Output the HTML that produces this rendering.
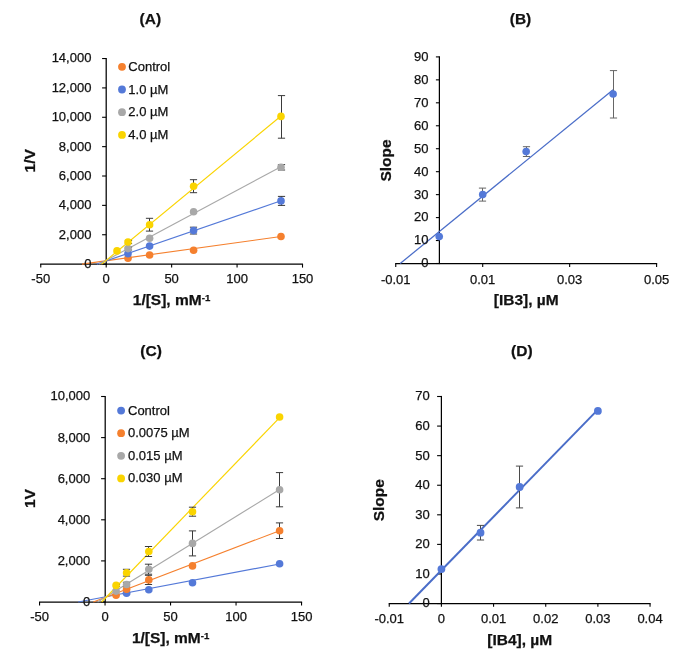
<!DOCTYPE html>
<html><head><meta charset="utf-8"><style>
html,body{margin:0;padding:0;background:#fff;}
svg{display:block;will-change:transform;font-family:"Liberation Sans",sans-serif;}
text{stroke:#111;stroke-width:0.25px;}
</style></head><body>
<svg width="685" height="668" viewBox="0 0 685 668">
<rect width="685" height="668" fill="#fff"/>
<line x1="106.2" y1="57.95" x2="106.2" y2="264.7" stroke="#000000" stroke-width="1.25"/>
<line x1="102.1" y1="264.1" x2="106.2" y2="264.1" stroke="#000000" stroke-width="1.1"/>
<line x1="102.1" y1="234.74" x2="106.2" y2="234.74" stroke="#000000" stroke-width="1.1"/>
<line x1="102.1" y1="205.37" x2="106.2" y2="205.37" stroke="#000000" stroke-width="1.1"/>
<line x1="102.1" y1="176.01" x2="106.2" y2="176.01" stroke="#000000" stroke-width="1.1"/>
<line x1="102.1" y1="146.64" x2="106.2" y2="146.64" stroke="#000000" stroke-width="1.1"/>
<line x1="102.1" y1="117.28" x2="106.2" y2="117.28" stroke="#000000" stroke-width="1.1"/>
<line x1="102.1" y1="87.91" x2="106.2" y2="87.91" stroke="#000000" stroke-width="1.1"/>
<line x1="102.1" y1="58.55" x2="106.2" y2="58.55" stroke="#000000" stroke-width="1.1"/>
<line x1="40.21" y1="264.1" x2="303.06" y2="264.1" stroke="#000000" stroke-width="1.25"/>
<line x1="40.76" y1="264.1" x2="40.76" y2="267.6" stroke="#000000" stroke-width="1.1"/>
<line x1="106.2" y1="264.1" x2="106.2" y2="267.6" stroke="#000000" stroke-width="1.1"/>
<line x1="171.64" y1="264.1" x2="171.64" y2="267.6" stroke="#000000" stroke-width="1.1"/>
<line x1="237.07" y1="264.1" x2="237.07" y2="267.6" stroke="#000000" stroke-width="1.1"/>
<line x1="302.51" y1="264.1" x2="302.51" y2="267.6" stroke="#000000" stroke-width="1.1"/>
<line x1="439.4" y1="56.3" x2="439.4" y2="264.1" stroke="#000000" stroke-width="1.25"/>
<line x1="435.9" y1="263.5" x2="439.4" y2="263.5" stroke="#000000" stroke-width="1.1"/>
<line x1="435.9" y1="240.54" x2="439.4" y2="240.54" stroke="#000000" stroke-width="1.1"/>
<line x1="435.9" y1="217.59" x2="439.4" y2="217.59" stroke="#000000" stroke-width="1.1"/>
<line x1="435.9" y1="194.63" x2="439.4" y2="194.63" stroke="#000000" stroke-width="1.1"/>
<line x1="435.9" y1="171.68" x2="439.4" y2="171.68" stroke="#000000" stroke-width="1.1"/>
<line x1="435.9" y1="148.72" x2="439.4" y2="148.72" stroke="#000000" stroke-width="1.1"/>
<line x1="435.9" y1="125.77" x2="439.4" y2="125.77" stroke="#000000" stroke-width="1.1"/>
<line x1="435.9" y1="102.81" x2="439.4" y2="102.81" stroke="#000000" stroke-width="1.1"/>
<line x1="435.9" y1="79.86" x2="439.4" y2="79.86" stroke="#000000" stroke-width="1.1"/>
<line x1="435.9" y1="56.9" x2="439.4" y2="56.9" stroke="#000000" stroke-width="1.1"/>
<line x1="395.2" y1="263.5" x2="657.15" y2="263.5" stroke="#000000" stroke-width="1.25"/>
<line x1="395.75" y1="263.5" x2="395.75" y2="267.1" stroke="#000000" stroke-width="1.1"/>
<line x1="482.7" y1="263.5" x2="482.7" y2="267.1" stroke="#000000" stroke-width="1.1"/>
<line x1="569.65" y1="263.5" x2="569.65" y2="267.1" stroke="#000000" stroke-width="1.1"/>
<line x1="656.6" y1="263.5" x2="656.6" y2="267.1" stroke="#000000" stroke-width="1.1"/>
<line x1="105.2" y1="395.9" x2="105.2" y2="602.6" stroke="#000000" stroke-width="1.25"/>
<line x1="101.1" y1="602" x2="105.2" y2="602" stroke="#000000" stroke-width="1.1"/>
<line x1="101.1" y1="560.9" x2="105.2" y2="560.9" stroke="#000000" stroke-width="1.1"/>
<line x1="101.1" y1="519.8" x2="105.2" y2="519.8" stroke="#000000" stroke-width="1.1"/>
<line x1="101.1" y1="478.7" x2="105.2" y2="478.7" stroke="#000000" stroke-width="1.1"/>
<line x1="101.1" y1="437.6" x2="105.2" y2="437.6" stroke="#000000" stroke-width="1.1"/>
<line x1="101.1" y1="396.5" x2="105.2" y2="396.5" stroke="#000000" stroke-width="1.1"/>
<line x1="39" y1="602" x2="302.1" y2="602" stroke="#000000" stroke-width="1.25"/>
<line x1="39.55" y1="602" x2="39.55" y2="605.5" stroke="#000000" stroke-width="1.1"/>
<line x1="105.05" y1="602" x2="105.05" y2="605.5" stroke="#000000" stroke-width="1.1"/>
<line x1="170.55" y1="602" x2="170.55" y2="605.5" stroke="#000000" stroke-width="1.1"/>
<line x1="236.05" y1="602" x2="236.05" y2="605.5" stroke="#000000" stroke-width="1.1"/>
<line x1="301.55" y1="602" x2="301.55" y2="605.5" stroke="#000000" stroke-width="1.1"/>
<line x1="441.4" y1="395.9" x2="441.4" y2="604.15" stroke="#000000" stroke-width="1.25"/>
<line x1="437.1" y1="603.55" x2="441.4" y2="603.55" stroke="#000000" stroke-width="1.1"/>
<line x1="437.1" y1="573.97" x2="441.4" y2="573.97" stroke="#000000" stroke-width="1.1"/>
<line x1="437.1" y1="544.39" x2="441.4" y2="544.39" stroke="#000000" stroke-width="1.1"/>
<line x1="437.1" y1="514.81" x2="441.4" y2="514.81" stroke="#000000" stroke-width="1.1"/>
<line x1="437.1" y1="485.24" x2="441.4" y2="485.24" stroke="#000000" stroke-width="1.1"/>
<line x1="437.1" y1="455.66" x2="441.4" y2="455.66" stroke="#000000" stroke-width="1.1"/>
<line x1="437.1" y1="426.08" x2="441.4" y2="426.08" stroke="#000000" stroke-width="1.1"/>
<line x1="437.1" y1="396.5" x2="441.4" y2="396.5" stroke="#000000" stroke-width="1.1"/>
<line x1="388.7" y1="603.55" x2="650.6" y2="603.55" stroke="#000000" stroke-width="1.25"/>
<line x1="389.25" y1="603.55" x2="389.25" y2="606.65" stroke="#000000" stroke-width="1.1"/>
<line x1="441.41" y1="603.55" x2="441.41" y2="606.65" stroke="#000000" stroke-width="1.1"/>
<line x1="493.57" y1="603.55" x2="493.57" y2="606.65" stroke="#000000" stroke-width="1.1"/>
<line x1="545.73" y1="603.55" x2="545.73" y2="606.65" stroke="#000000" stroke-width="1.1"/>
<line x1="597.89" y1="603.55" x2="597.89" y2="606.65" stroke="#000000" stroke-width="1.1"/>
<line x1="650.05" y1="603.55" x2="650.05" y2="606.65" stroke="#000000" stroke-width="1.1"/>
<line x1="82" y1="264.1" x2="281" y2="236.5" stroke="#F5802E" stroke-width="1.15"/>
<line x1="96.83" y1="264.1" x2="281" y2="200.82" stroke="#5479D8" stroke-width="1.15"/>
<line x1="99.14" y1="264.1" x2="281" y2="166.72" stroke="#A8A8A8" stroke-width="1.15"/>
<line x1="101.7" y1="264.1" x2="281" y2="116" stroke="#FAD400" stroke-width="1.15"/>
<line x1="400.2" y1="263.5" x2="613.12" y2="89.8" stroke="#4a6dc8" stroke-width="1.25"/>
<line x1="78.2" y1="602" x2="279.6" y2="564" stroke="#5479D8" stroke-width="1.15"/>
<line x1="93.3" y1="602" x2="279.6" y2="530.7" stroke="#F5802E" stroke-width="1.15"/>
<line x1="97.62" y1="602" x2="279.6" y2="489.52" stroke="#A8A8A8" stroke-width="1.15"/>
<line x1="101.6" y1="602" x2="279.6" y2="417.6" stroke="#FAD400" stroke-width="1.15"/>
<line x1="409.0" y1="603.55" x2="597.89" y2="409.6" stroke="#4a6dc8" stroke-width="2.0"/>
<line x1="193.5" y1="227.2" x2="193.5" y2="234" stroke="#3a3a3a" stroke-width="1.0"/>
<line x1="189.9" y1="227.2" x2="197.1" y2="227.2" stroke="#3a3a3a" stroke-width="1.0"/>
<line x1="189.9" y1="234" x2="197.1" y2="234" stroke="#3a3a3a" stroke-width="1.0"/>
<line x1="281.5" y1="196.4" x2="281.5" y2="205.4" stroke="#3a3a3a" stroke-width="1.0"/>
<line x1="277.9" y1="196.4" x2="285.1" y2="196.4" stroke="#3a3a3a" stroke-width="1.0"/>
<line x1="277.9" y1="205.4" x2="285.1" y2="205.4" stroke="#3a3a3a" stroke-width="1.0"/>
<line x1="128.5" y1="247.2" x2="128.5" y2="250" stroke="#3a3a3a" stroke-width="1.0"/>
<line x1="124.9" y1="247.2" x2="132.1" y2="247.2" stroke="#3a3a3a" stroke-width="1.0"/>
<line x1="124.9" y1="250" x2="132.1" y2="250" stroke="#3a3a3a" stroke-width="1.0"/>
<line x1="281.5" y1="164.6" x2="281.5" y2="170" stroke="#3a3a3a" stroke-width="1.0"/>
<line x1="277.9" y1="164.6" x2="285.1" y2="164.6" stroke="#3a3a3a" stroke-width="1.0"/>
<line x1="277.9" y1="170" x2="285.1" y2="170" stroke="#3a3a3a" stroke-width="1.0"/>
<line x1="128.5" y1="240.4" x2="128.5" y2="243.6" stroke="#3a3a3a" stroke-width="1.0"/>
<line x1="124.9" y1="240.4" x2="132.1" y2="240.4" stroke="#3a3a3a" stroke-width="1.0"/>
<line x1="124.9" y1="243.6" x2="132.1" y2="243.6" stroke="#3a3a3a" stroke-width="1.0"/>
<line x1="149.5" y1="218.3" x2="149.5" y2="231.1" stroke="#3a3a3a" stroke-width="1.0"/>
<line x1="145.9" y1="218.3" x2="153.1" y2="218.3" stroke="#3a3a3a" stroke-width="1.0"/>
<line x1="145.9" y1="231.1" x2="153.1" y2="231.1" stroke="#3a3a3a" stroke-width="1.0"/>
<line x1="193.5" y1="179.7" x2="193.5" y2="192.7" stroke="#3a3a3a" stroke-width="1.0"/>
<line x1="189.9" y1="179.7" x2="197.1" y2="179.7" stroke="#3a3a3a" stroke-width="1.0"/>
<line x1="189.9" y1="192.7" x2="197.1" y2="192.7" stroke="#3a3a3a" stroke-width="1.0"/>
<line x1="281.5" y1="95.6" x2="281.5" y2="138.2" stroke="#3a3a3a" stroke-width="1.0"/>
<line x1="277.9" y1="95.6" x2="285.1" y2="95.6" stroke="#3a3a3a" stroke-width="1.0"/>
<line x1="277.9" y1="138.2" x2="285.1" y2="138.2" stroke="#3a3a3a" stroke-width="1.0"/>
<line x1="482.5" y1="188.1" x2="482.5" y2="201.1" stroke="#666666" stroke-width="1.0"/>
<line x1="478.9" y1="188.1" x2="486.1" y2="188.1" stroke="#666666" stroke-width="1.0"/>
<line x1="478.9" y1="201.1" x2="486.1" y2="201.1" stroke="#666666" stroke-width="1.0"/>
<line x1="526.5" y1="146.7" x2="526.5" y2="156.5" stroke="#666666" stroke-width="1.0"/>
<line x1="522.9" y1="146.7" x2="530.1" y2="146.7" stroke="#666666" stroke-width="1.0"/>
<line x1="522.9" y1="156.5" x2="530.1" y2="156.5" stroke="#666666" stroke-width="1.0"/>
<line x1="613.5" y1="70.6" x2="613.5" y2="118" stroke="#666666" stroke-width="1.0"/>
<line x1="609.9" y1="70.6" x2="617.1" y2="70.6" stroke="#666666" stroke-width="1.0"/>
<line x1="609.9" y1="118" x2="617.1" y2="118" stroke="#666666" stroke-width="1.0"/>
<line x1="126.5" y1="592.4" x2="126.5" y2="594.2" stroke="#3a3a3a" stroke-width="1.0"/>
<line x1="122.9" y1="592.4" x2="130.1" y2="592.4" stroke="#3a3a3a" stroke-width="1.0"/>
<line x1="122.9" y1="594.2" x2="130.1" y2="594.2" stroke="#3a3a3a" stroke-width="1.0"/>
<line x1="148.5" y1="575.3" x2="148.5" y2="584.5" stroke="#3a3a3a" stroke-width="1.0"/>
<line x1="144.9" y1="575.3" x2="152.1" y2="575.3" stroke="#3a3a3a" stroke-width="1.0"/>
<line x1="144.9" y1="584.5" x2="152.1" y2="584.5" stroke="#3a3a3a" stroke-width="1.0"/>
<line x1="279.5" y1="522.9" x2="279.5" y2="538.5" stroke="#3a3a3a" stroke-width="1.0"/>
<line x1="275.9" y1="522.9" x2="283.1" y2="522.9" stroke="#3a3a3a" stroke-width="1.0"/>
<line x1="275.9" y1="538.5" x2="283.1" y2="538.5" stroke="#3a3a3a" stroke-width="1.0"/>
<line x1="126.5" y1="582.3" x2="126.5" y2="586.7" stroke="#3a3a3a" stroke-width="1.0"/>
<line x1="122.9" y1="582.3" x2="130.1" y2="582.3" stroke="#3a3a3a" stroke-width="1.0"/>
<line x1="122.9" y1="586.7" x2="130.1" y2="586.7" stroke="#3a3a3a" stroke-width="1.0"/>
<line x1="148.5" y1="564.2" x2="148.5" y2="574.2" stroke="#3a3a3a" stroke-width="1.0"/>
<line x1="144.9" y1="564.2" x2="152.1" y2="564.2" stroke="#3a3a3a" stroke-width="1.0"/>
<line x1="144.9" y1="574.2" x2="152.1" y2="574.2" stroke="#3a3a3a" stroke-width="1.0"/>
<line x1="192.5" y1="530.9" x2="192.5" y2="555.9" stroke="#3a3a3a" stroke-width="1.0"/>
<line x1="188.9" y1="530.9" x2="196.1" y2="530.9" stroke="#3a3a3a" stroke-width="1.0"/>
<line x1="188.9" y1="555.9" x2="196.1" y2="555.9" stroke="#3a3a3a" stroke-width="1.0"/>
<line x1="279.5" y1="472.6" x2="279.5" y2="506.8" stroke="#3a3a3a" stroke-width="1.0"/>
<line x1="275.9" y1="472.6" x2="283.1" y2="472.6" stroke="#3a3a3a" stroke-width="1.0"/>
<line x1="275.9" y1="506.8" x2="283.1" y2="506.8" stroke="#3a3a3a" stroke-width="1.0"/>
<line x1="116.5" y1="584.4" x2="116.5" y2="586.4" stroke="#3a3a3a" stroke-width="1.0"/>
<line x1="112.9" y1="584.4" x2="120.1" y2="584.4" stroke="#3a3a3a" stroke-width="1.0"/>
<line x1="112.9" y1="586.4" x2="120.1" y2="586.4" stroke="#3a3a3a" stroke-width="1.0"/>
<line x1="126.5" y1="569.3" x2="126.5" y2="576.1" stroke="#3a3a3a" stroke-width="1.0"/>
<line x1="122.9" y1="569.3" x2="130.1" y2="569.3" stroke="#3a3a3a" stroke-width="1.0"/>
<line x1="122.9" y1="576.1" x2="130.1" y2="576.1" stroke="#3a3a3a" stroke-width="1.0"/>
<line x1="148.5" y1="546.5" x2="148.5" y2="556.5" stroke="#3a3a3a" stroke-width="1.0"/>
<line x1="144.9" y1="546.5" x2="152.1" y2="546.5" stroke="#3a3a3a" stroke-width="1.0"/>
<line x1="144.9" y1="556.5" x2="152.1" y2="556.5" stroke="#3a3a3a" stroke-width="1.0"/>
<line x1="192.5" y1="507.2" x2="192.5" y2="516.2" stroke="#3a3a3a" stroke-width="1.0"/>
<line x1="188.9" y1="507.2" x2="196.1" y2="507.2" stroke="#3a3a3a" stroke-width="1.0"/>
<line x1="188.9" y1="516.2" x2="196.1" y2="516.2" stroke="#3a3a3a" stroke-width="1.0"/>
<line x1="480.5" y1="525.4" x2="480.5" y2="540" stroke="#4a4a4a" stroke-width="1.0"/>
<line x1="476.9" y1="525.4" x2="484.1" y2="525.4" stroke="#4a4a4a" stroke-width="1.0"/>
<line x1="476.9" y1="540" x2="484.1" y2="540" stroke="#4a4a4a" stroke-width="1.0"/>
<line x1="519.5" y1="466.1" x2="519.5" y2="507.9" stroke="#4a4a4a" stroke-width="1.0"/>
<line x1="515.9" y1="466.1" x2="523.1" y2="466.1" stroke="#4a4a4a" stroke-width="1.0"/>
<line x1="515.9" y1="507.9" x2="523.1" y2="507.9" stroke="#4a4a4a" stroke-width="1.0"/>
<circle cx="128" cy="258.3" r="3.8" fill="#F5802E"/>
<circle cx="149.6" cy="255" r="3.8" fill="#F5802E"/>
<circle cx="193.6" cy="250.2" r="3.8" fill="#F5802E"/>
<circle cx="281" cy="236.5" r="3.8" fill="#F5802E"/>
<circle cx="128" cy="253.6" r="3.8" fill="#5479D8"/>
<circle cx="149.6" cy="246.1" r="3.8" fill="#5479D8"/>
<circle cx="193.6" cy="230.6" r="3.8" fill="#5479D8"/>
<circle cx="281" cy="200.9" r="3.8" fill="#5479D8"/>
<circle cx="128" cy="248.6" r="3.8" fill="#A8A8A8"/>
<circle cx="149.6" cy="238.2" r="3.8" fill="#A8A8A8"/>
<circle cx="193.6" cy="211.8" r="3.8" fill="#A8A8A8"/>
<circle cx="281" cy="167.3" r="3.8" fill="#A8A8A8"/>
<circle cx="117" cy="250.9" r="3.8" fill="#FAD400"/>
<circle cx="128" cy="242" r="3.8" fill="#FAD400"/>
<circle cx="149.6" cy="224.7" r="3.8" fill="#FAD400"/>
<circle cx="193.6" cy="186.2" r="3.8" fill="#FAD400"/>
<circle cx="281" cy="116.4" r="3.8" fill="#FAD400"/>
<circle cx="122" cy="66.8" r="3.9" fill="#F5802E"/>
<circle cx="122" cy="89.5" r="3.9" fill="#5479D8"/>
<circle cx="122" cy="112.2" r="3.9" fill="#A8A8A8"/>
<circle cx="122" cy="134.9" r="3.9" fill="#FAD400"/>
<circle cx="439.23" cy="236.6" r="3.8" fill="#5479D8"/>
<circle cx="482.7" cy="194.6" r="3.8" fill="#5479D8"/>
<circle cx="526.17" cy="151.6" r="3.8" fill="#5479D8"/>
<circle cx="613.12" cy="94" r="3.8" fill="#5479D8"/>
<circle cx="126.6" cy="593.3" r="3.8" fill="#5479D8"/>
<circle cx="148.8" cy="589.7" r="3.8" fill="#5479D8"/>
<circle cx="192.5" cy="582.8" r="3.8" fill="#5479D8"/>
<circle cx="279.6" cy="563.8" r="3.8" fill="#5479D8"/>
<circle cx="116.1" cy="595.3" r="3.8" fill="#F5802E"/>
<circle cx="126.6" cy="589.3" r="3.8" fill="#F5802E"/>
<circle cx="148.8" cy="579.9" r="3.8" fill="#F5802E"/>
<circle cx="192.5" cy="565.9" r="3.8" fill="#F5802E"/>
<circle cx="279.6" cy="530.7" r="3.8" fill="#F5802E"/>
<circle cx="116.1" cy="591.1" r="3.8" fill="#A8A8A8"/>
<circle cx="126.6" cy="584.5" r="3.8" fill="#A8A8A8"/>
<circle cx="148.8" cy="569.2" r="3.8" fill="#A8A8A8"/>
<circle cx="192.5" cy="543.4" r="3.8" fill="#A8A8A8"/>
<circle cx="279.6" cy="489.7" r="3.8" fill="#A8A8A8"/>
<circle cx="116.1" cy="585.4" r="3.8" fill="#FAD400"/>
<circle cx="126.6" cy="572.7" r="3.8" fill="#FAD400"/>
<circle cx="148.8" cy="551.5" r="3.8" fill="#FAD400"/>
<circle cx="192.5" cy="511.7" r="3.8" fill="#FAD400"/>
<circle cx="279.6" cy="417" r="3.8" fill="#FAD400"/>
<circle cx="121.1" cy="410.6" r="3.9" fill="#5479D8"/>
<circle cx="121.1" cy="433.2" r="3.9" fill="#F5802E"/>
<circle cx="121.1" cy="455.8" r="3.9" fill="#A8A8A8"/>
<circle cx="121.1" cy="478.4" r="3.9" fill="#FAD400"/>
<circle cx="441.41" cy="569.1" r="3.9" fill="#5479D8"/>
<circle cx="480.53" cy="532.7" r="3.9" fill="#5479D8"/>
<circle cx="519.65" cy="487" r="3.9" fill="#5479D8"/>
<circle cx="597.89" cy="410.9" r="3.9" fill="#5479D8"/>
<text x="150.3" y="23.8" font-size="15.5" text-anchor="middle" font-weight="bold" fill="#111111">(A)</text>
<text x="91.4" y="268" font-size="13" text-anchor="end" fill="#111111">0</text>
<text x="91.4" y="238.64" font-size="13" text-anchor="end" fill="#111111">2,000</text>
<text x="91.4" y="209.27" font-size="13" text-anchor="end" fill="#111111">4,000</text>
<text x="91.4" y="179.91" font-size="13" text-anchor="end" fill="#111111">6,000</text>
<text x="91.4" y="150.54" font-size="13" text-anchor="end" fill="#111111">8,000</text>
<text x="91.4" y="121.18" font-size="13" text-anchor="end" fill="#111111">10,000</text>
<text x="91.4" y="91.81" font-size="13" text-anchor="end" fill="#111111">12,000</text>
<text x="91.4" y="62.45" font-size="13" text-anchor="end" fill="#111111">14,000</text>
<text x="40.76" y="283.4" font-size="13" text-anchor="middle" fill="#111111">-50</text>
<text x="106.2" y="283.4" font-size="13" text-anchor="middle" fill="#111111">0</text>
<text x="171.64" y="283.4" font-size="13" text-anchor="middle" fill="#111111">50</text>
<text x="237.07" y="283.4" font-size="13" text-anchor="middle" fill="#111111">100</text>
<text x="302.51" y="283.4" font-size="13" text-anchor="middle" fill="#111111">150</text>
<text transform="translate(35.2,160.8) rotate(-90)" font-size="15.5" font-weight="bold" text-anchor="middle" fill="#111111">1/V</text>
<text x="171.5" y="304.7" font-size="15.5" font-weight="bold" text-anchor="middle" fill="#111111">1/[S], mM<tspan font-size="9.6" dy="-4.0">-1</tspan></text>
<text x="128.3" y="70.8" font-size="13" text-anchor="start" fill="#111111">Control</text>
<text x="128.3" y="93.5" font-size="13" text-anchor="start" fill="#111111">1.0 µM</text>
<text x="128.3" y="116.2" font-size="13" text-anchor="start" fill="#111111">2.0 µM</text>
<text x="128.3" y="138.9" font-size="13" text-anchor="start" fill="#111111">4.0 µM</text>
<text x="520.5" y="24.1" font-size="15.5" text-anchor="middle" font-weight="bold" fill="#111111">(B)</text>
<text x="428.4" y="267.4" font-size="13" text-anchor="end" fill="#111111">0</text>
<text x="428.4" y="244.44" font-size="13" text-anchor="end" fill="#111111">10</text>
<text x="428.4" y="221.49" font-size="13" text-anchor="end" fill="#111111">20</text>
<text x="428.4" y="198.53" font-size="13" text-anchor="end" fill="#111111">30</text>
<text x="428.4" y="175.58" font-size="13" text-anchor="end" fill="#111111">40</text>
<text x="428.4" y="152.62" font-size="13" text-anchor="end" fill="#111111">50</text>
<text x="428.4" y="129.67" font-size="13" text-anchor="end" fill="#111111">60</text>
<text x="428.4" y="106.71" font-size="13" text-anchor="end" fill="#111111">70</text>
<text x="428.4" y="83.76" font-size="13" text-anchor="end" fill="#111111">80</text>
<text x="428.4" y="60.8" font-size="13" text-anchor="end" fill="#111111">90</text>
<text x="395.75" y="283.5" font-size="13" text-anchor="middle" fill="#111111">-0.01</text>
<text x="482.7" y="283.5" font-size="13" text-anchor="middle" fill="#111111">0.01</text>
<text x="569.65" y="283.5" font-size="13" text-anchor="middle" fill="#111111">0.03</text>
<text x="656.6" y="283.5" font-size="13" text-anchor="middle" fill="#111111">0.05</text>
<text transform="translate(391.2,160.5) rotate(-90)" font-size="15.5" font-weight="bold" text-anchor="middle" fill="#111111">Slope</text>
<text x="526.2" y="304.5" font-size="15.5" font-weight="bold" text-anchor="middle" fill="#111111">[IB3], µM</text>
<text x="151.1" y="356.2" font-size="15.5" text-anchor="middle" font-weight="bold" fill="#111111">(C)</text>
<text x="90.2" y="605.9" font-size="13" text-anchor="end" fill="#111111">0</text>
<text x="90.2" y="564.8" font-size="13" text-anchor="end" fill="#111111">2,000</text>
<text x="90.2" y="523.7" font-size="13" text-anchor="end" fill="#111111">4,000</text>
<text x="90.2" y="482.6" font-size="13" text-anchor="end" fill="#111111">6,000</text>
<text x="90.2" y="441.5" font-size="13" text-anchor="end" fill="#111111">8,000</text>
<text x="90.2" y="400.4" font-size="13" text-anchor="end" fill="#111111">10,000</text>
<text x="39.55" y="621.3" font-size="13" text-anchor="middle" fill="#111111">-50</text>
<text x="105.05" y="621.3" font-size="13" text-anchor="middle" fill="#111111">0</text>
<text x="170.55" y="621.3" font-size="13" text-anchor="middle" fill="#111111">50</text>
<text x="236.05" y="621.3" font-size="13" text-anchor="middle" fill="#111111">100</text>
<text x="301.55" y="621.3" font-size="13" text-anchor="middle" fill="#111111">150</text>
<text transform="translate(34.7,498.6) rotate(-90)" font-size="15.5" font-weight="bold" text-anchor="middle" fill="#111111">1V</text>
<text x="170.6" y="643.1" font-size="15.5" font-weight="bold" text-anchor="middle" fill="#111111">1/[S], mM<tspan font-size="9.6" dy="-4.0">-1</tspan></text>
<text x="128" y="414.5" font-size="13" text-anchor="start" fill="#111111">Control</text>
<text x="128" y="437.1" font-size="13" text-anchor="start" fill="#111111">0.0075 µM</text>
<text x="128" y="459.7" font-size="13" text-anchor="start" fill="#111111">0.015 µM</text>
<text x="128" y="482.3" font-size="13" text-anchor="start" fill="#111111">0.030 µM</text>
<text x="521.8" y="356.2" font-size="15.5" text-anchor="middle" font-weight="bold" fill="#111111">(D)</text>
<text x="429.7" y="607.45" font-size="13" text-anchor="end" fill="#111111">0</text>
<text x="429.7" y="577.87" font-size="13" text-anchor="end" fill="#111111">10</text>
<text x="429.7" y="548.29" font-size="13" text-anchor="end" fill="#111111">20</text>
<text x="429.7" y="518.71" font-size="13" text-anchor="end" fill="#111111">30</text>
<text x="429.7" y="489.14" font-size="13" text-anchor="end" fill="#111111">40</text>
<text x="429.7" y="459.56" font-size="13" text-anchor="end" fill="#111111">50</text>
<text x="429.7" y="429.98" font-size="13" text-anchor="end" fill="#111111">60</text>
<text x="429.7" y="400.4" font-size="13" text-anchor="end" fill="#111111">70</text>
<text x="389.25" y="623.1" font-size="13" text-anchor="middle" fill="#111111">-0.01</text>
<text x="441.41" y="623.1" font-size="13" text-anchor="middle" fill="#111111">0</text>
<text x="493.57" y="623.1" font-size="13" text-anchor="middle" fill="#111111">0.01</text>
<text x="545.73" y="623.1" font-size="13" text-anchor="middle" fill="#111111">0.02</text>
<text x="597.89" y="623.1" font-size="13" text-anchor="middle" fill="#111111">0.03</text>
<text x="650.05" y="623.1" font-size="13" text-anchor="middle" fill="#111111">0.04</text>
<text transform="translate(384.4,500.2) rotate(-90)" font-size="15.5" font-weight="bold" text-anchor="middle" fill="#111111">Slope</text>
<text x="519.7" y="644.6" font-size="15.5" font-weight="bold" text-anchor="middle" fill="#111111">[IB4], µM</text>
</svg>
</body></html>
